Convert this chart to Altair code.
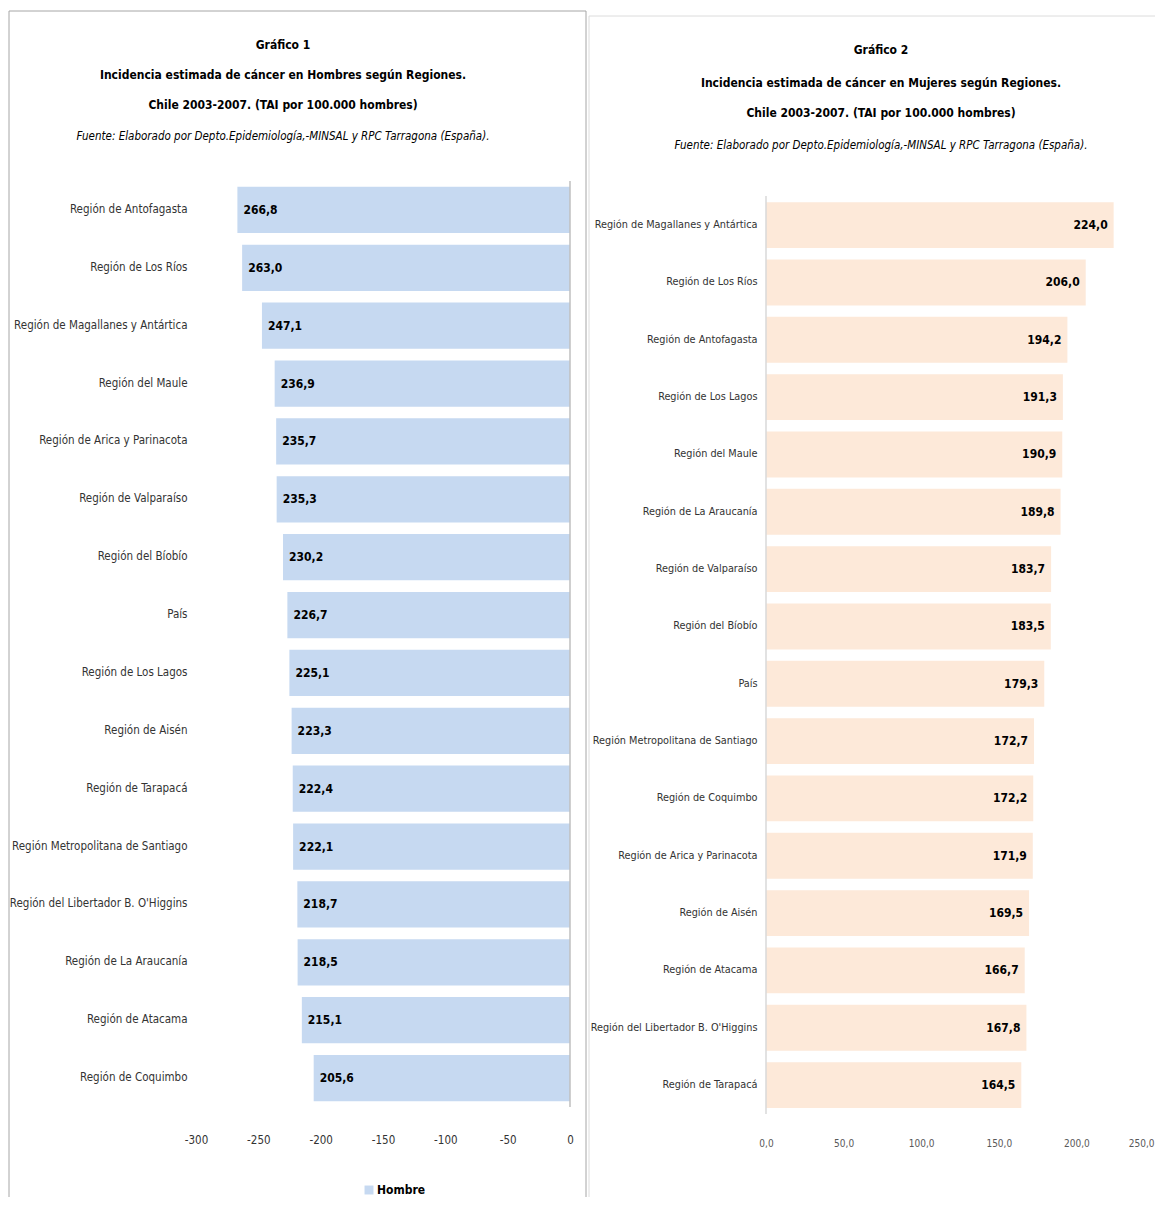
import altair as alt
import pandas as pd

FONT = "DejaVu Sans Condensed"

# Gráfico 1 (Hombres)
regiones_h = [
    "Región de Antofagasta", "Región de Los Ríos", "Región de Magallanes y Antártica",
    "Región del Maule", "Región de Arica y Parinacota", "Región de Valparaíso",
    "Región del Bíobío", "País", "Región de Los Lagos", "Región de Aisén",
    "Región de Tarapacá", "Región Metropolitana de Santiago",
    "Región del Libertador B. O'Higgins", "Región de La Araucanía",
    "Región de Atacama", "Región de Coquimbo",
]
valores_h = [266.8, 263.0, 247.1, 236.9, 235.7, 235.3, 230.2, 226.7, 225.1,
             223.3, 222.4, 222.1, 218.7, 218.5, 215.1, 205.6]

# Gráfico 2 (Mujeres)
regiones_m = [
    "Región de Magallanes y Antártica", "Región de Los Ríos", "Región de Antofagasta",
    "Región de Los Lagos", "Región del Maule", "Región de La Araucanía",
    "Región de Valparaíso", "Región del Bíobío", "País",
    "Región Metropolitana de Santiago", "Región de Coquimbo",
    "Región de Arica y Parinacota", "Región de Aisén", "Región de Atacama",
    "Región del Libertador B. O'Higgins", "Región de Tarapacá",
]
valores_m = [224.0, 206.0, 194.2, 191.3, 190.9, 189.8, 183.7, 183.5, 179.3,
             172.7, 172.2, 171.9, 169.5, 166.7, 167.8, 164.5]

ticks_h = [-300, -250, -200, -150, -100, -50, 0]
ticks_m = [0, 50, 100, 150, 200, 250]

titulo_h = ["Gráfico 1",
            "Incidencia estimada de cáncer en Hombres  según Regiones.",
            "Chile 2003-2007. (TAI por 100.000 hombres)"]
titulo_m = ["Gráfico 2",
            "Incidencia estimada de cáncer en Mujeres según Regiones.",
            "Chile 2003-2007. (TAI por 100.000 hombres)"]
fuente = "Fuente: Elaborado por Depto.Epidemiología,-MINSAL y RPC Tarragona  (España)."

df_h = pd.DataFrame({"region": regiones_h, "valor": valores_h})
df_m = pd.DataFrame({"region": regiones_m, "valor": valores_m})
one = pd.DataFrame({"a": [0]})

WL, HL = 374, 926
WR, HR = 388, 933
BOTTOM = 1016


def title_marks(lines, cx, ys):
    out = []
    for line, yy in zip(lines, ys[:3]):
        out.append(alt.Chart(one).mark_text(
            font=FONT, fontSize=12, fontWeight="bold", color="black",
            align="center", baseline="middle").encode(
            x=alt.value(cx), y=alt.value(yy), text=alt.value(line)))
    out.append(alt.Chart(one).mark_text(
        font=FONT, fontSize=11.5, fontStyle="italic", color="black",
        align="center", baseline="middle").encode(
        x=alt.value(cx), y=alt.value(ys[3]), text=alt.value(fuente)))
    return out


# ---------- Left chart ----------
base_h = alt.Chart(df_h).transform_calculate(
    neg="-datum.valor",
    lab="replace(format(datum.valor, '.1f'), '.', ',')",
    serie="'Hombre'",
)
y_h = alt.Y("region:N", sort=regiones_h, title=None,
            scale=alt.Scale(paddingInner=0.2, paddingOuter=0.1),
            axis=alt.Axis(domain=False, ticks=False, labelPadding=9, labelFont=FONT,
                          labelFontSize=11.5, labelColor="#333333", labelLimit=300))
bars_h = base_h.mark_bar().encode(
    x=alt.X("neg:Q", title=None,
            scale=alt.Scale(domain=[-300, 0], nice=False),
            axis=alt.Axis(values=ticks_h, domain=False, ticks=False, grid=False,
                          labelFlush=False,
                          labelExpr="'' + datum.value", labelPadding=27, labelFont=FONT,
                          labelFontSize=11.5, labelColor="#333333")),
    y=y_h,
    color=alt.Color("serie:N", scale=alt.Scale(range=["#c6d9f1"]), title=None,
                    legend=alt.Legend(orient="none", legendX=167, legendY=1003,
                                      symbolType="square", symbolSize=80,
                                      symbolStrokeWidth=0, labelFont=FONT,
                                      labelFontSize=12, labelFontWeight="bold",
                                      labelColor="black", labelOffset=2)),
)
text_h = base_h.mark_text(align="left", dx=6, font=FONT, fontSize=12,
                          fontWeight="bold", color="black").encode(
    x="neg:Q", y=alt.Y("region:N", sort=regiones_h), text="lab:N")
axis_h = alt.Chart(one).mark_rule(color="#bfbfbf", strokeWidth=1.5).encode(
    x=alt.datum(0), y=alt.value(0), y2=alt.value(HL))
frame_h = [
    alt.Chart(one).mark_rule(color="#a6a6a6").encode(
        x=alt.value(-187), x2=alt.value(390), y=alt.value(-170)),
    alt.Chart(one).mark_rule(color="#a6a6a6").encode(
        x=alt.value(-187), y=alt.value(-170), y2=alt.value(BOTTOM)),
    alt.Chart(one).mark_rule(color="#a6a6a6").encode(
        x=alt.value(390), y=alt.value(-170), y2=alt.value(BOTTOM)),
]
left = alt.layer(
    bars_h, text_h, axis_h, *frame_h,
    *title_marks(titulo_h, 87, [-136, -106, -76, -44]),
).properties(width=WL, height=HL)

# ---------- Right chart ----------
base_m = alt.Chart(df_m).transform_calculate(
    lab="replace(format(datum.valor, '.1f'), '.', ',')")
y_m = alt.Y("region:N", sort=regiones_m, title=None,
            scale=alt.Scale(paddingInner=0.2, paddingOuter=0.237, align=0.78),
            axis=alt.Axis(domain=False, ticks=False, labelPadding=9, labelFont=FONT,
                          labelFontSize=10.8, labelColor="#333333", labelLimit=300))
bars_m = base_m.mark_bar(color="#fde9d9").encode(
    x=alt.X("valor:Q", title=None,
            scale=alt.Scale(domain=[0, 250], nice=False),
            axis=alt.Axis(values=ticks_m, domain=False, ticks=False, grid=False,
                          labelFlush=False,
                          labelExpr="replace(format(datum.value, '.1f'), '.', ',')",
                          labelAlign=alt.expr("datum.value == 250 ? 'right' : 'center'"),
                          labelPadding=24, labelFont=FONT, labelFontSize=10,
                          labelColor="#595959")),
    y=y_m,
)
text_m = base_m.mark_text(align="right", dx=-6, font=FONT, fontSize=12,
                          fontWeight="bold", color="black").encode(
    x="valor:Q", y=alt.Y("region:N", sort=regiones_m), text="lab:N")
axis_m = alt.Chart(one).mark_rule(color="#d9d9d9", strokeWidth=1.5).encode(
    x=alt.datum(0), y=alt.value(15), y2=alt.value(HR))
frame_m = [
    alt.Chart(one).mark_rule(color="#dcdcdc").encode(
        x=alt.value(-177), x2=alt.value(389), y=alt.value(-165)),
    alt.Chart(one).mark_rule(color="#dcdcdc").encode(
        x=alt.value(-177), y=alt.value(-165), y2=alt.value(BOTTOM)),
]
right = alt.layer(
    bars_m, text_m, axis_m, *frame_m,
    *title_marks(titulo_m, 115, [-131, -98, -68, -35]),
).properties(width=WR, height=HR)

chart = alt.hconcat(left, right, spacing=1).properties(
    padding={"left": 0, "top": 2, "right": 0, "bottom": 0},
).configure(font=FONT).configure_view(stroke="transparent", strokeWidth=0)

chart.save("out.html", embed_options={"renderer": "svg", "actions": False})
